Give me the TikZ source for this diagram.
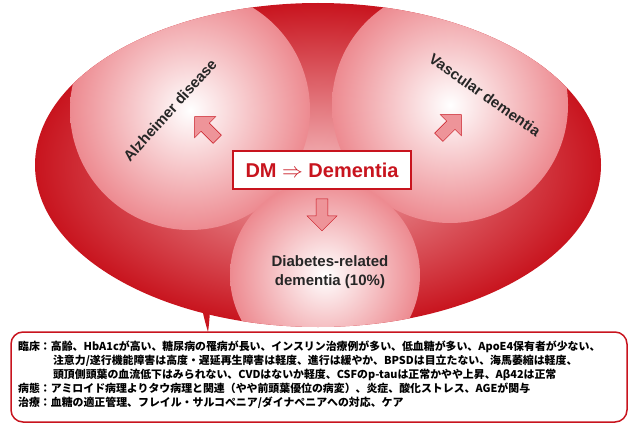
\documentclass[tikz,border=0pt]{standalone}
\usepackage{fontspec}
\setmainfont{Liberation Sans}
\newfontfamily\jp{Noto Sans CJK JP}
\usetikzlibrary{shapes.arrows,shadings}
\definecolor{dred}{RGB}{200,20,30}
\definecolor{mred}{RGB}{225,60,70}
\tikzset{
 lobe/.style={inner color=white,outer color=mred!60,draw=none},
 barrow/.style={single arrow,draw=dred,fill=mred!55,minimum height=32pt,minimum width=30pt,single arrow head extend=5pt,inner sep=3pt},
 lbl/.style={font=\bfseries\fontsize{15}{17}\selectfont,text=black!85}
}
\begin{document}
\begin{tikzpicture}[x=1pt,y=-1pt]
\useasboundingbox (0,0) rectangle (640,428);
% tail
\fill[dred] (205,255) .. controls (195,280) and (200,305) .. (208,332) .. controls (212,305) and (208,285) .. (215,262) -- cycle;
\begin{scope}
\clip (318,165) ellipse [x radius=283, y radius=162];
\shade[inner color=mred!40,outer color=dred] (318,165) ellipse [x radius=283, y radius=162];
\shade[lobe] (190,110) circle (120);
\shade[lobe] (450,105) circle (118);
\shade[lobe] (325,275) circle (95);
\end{scope}
\node[lbl,rotate=48] (ad) at (170,110) {Alzheimer disease};
\node[lbl,rotate=-35] (vd) at (485,95) {Vascular dementia};
\node[draw=dred,line width=1.5pt,fill=white,minimum width=178pt,minimum height=38pt,font=\bfseries\fontsize{20}{22}\selectfont,text=dred] (dm) at (322,170) {DM $\Rightarrow$ Dementia};
\node[barrow,rotate=135] (a1) at (208,130) {};
\node[barrow,rotate=45] (a2) at (448,128) {};
\node[barrow,rotate=-90] (a3) at (322,212) {};
\node[lbl,align=center,font=\bfseries\fontsize{15}{19}\selectfont] (drd) at (330,272) {Diabetes-related\\dementia (10\%)};
\node[draw=dred,line width=1.5pt,rounded corners=12pt,fill=white,minimum width=616pt,minimum height=90pt] (box) at (319,377) {};
\node[anchor=north west,align=left,font=\jp\bfseries\fontsize{10.9}{14}\selectfont,inner sep=0pt] (txt) at (18,341) {%
臨床：高齢、HbA1cが高い、糖尿病の罹病が長い、インスリン治療例が多い、低血糖が多い、ApoE4保有者が少ない、\\
\hspace{3.2em}注意力/遂行機能障害は高度・遅延再生障害は軽度、進行は緩やか、BPSDは目立たない、海馬萎縮は軽度、\\
\hspace{3.2em}頭頂側頭葉の血流低下はみられない、CVDはないか軽度、CSFのp-tauは正常かやや上昇、Aβ42は正常\\
病態：アミロイド病理よりタウ病理と関連（やや前頭葉優位の病変）、炎症、酸化ストレス、AGEが関与\\
治療：血糖の適正管理、フレイル・サルコペニア/ダイナペニアへの対応、ケア};
\end{tikzpicture}
\end{document}
